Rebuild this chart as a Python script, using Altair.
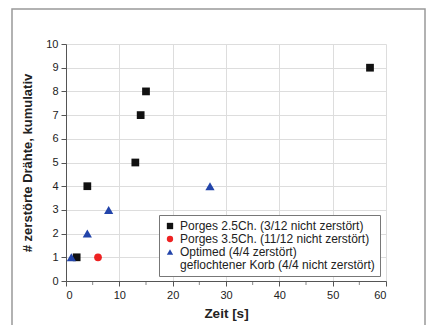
import altair as alt
import pandas as pd

series_names = [
    "Porges 2.5Ch.  (3/12 nicht zerstört)",
    "Porges 3.5Ch. (11/12 nicht zerstört)",
    "Optimed (4/4 zerstört)",
    "geflochtener Korb (4/4 nicht zerstört)",
]
p25_x = [2, 4, 13, 14, 15, 57]
p25_y = [1, 4, 5, 7, 8, 9]
p35_x = [6]
p35_y = [1]
opt_x = [1, 4, 8, 27]
opt_y = [1, 2, 3, 4]
x_ticks = [0, 10, 20, 30, 40, 50, 60]
x_minor = [5, 15, 25, 35, 45, 55]
y_ticks = list(range(0, 11))

rows = []
for xs, ys, name in [(p25_x, p25_y, series_names[0]),
                     (p35_x, p35_y, series_names[1]),
                     (opt_x, opt_y, series_names[2])]:
    for a, b in zip(xs, ys):
        rows.append({"t": a, "n": b, "s": name})
df = pd.DataFrame(rows)

FONT = "Liberation Sans"

leg = alt.Legend(title=None, orient="none", legendX=93, legendY=171,
                 labelFontSize=12, symbolSize=40, rowPadding=1,
                 labelLimit=400, strokeColor="#777", padding=5,
                 fillColor="white")

enc = dict(
    x=alt.X("t:Q", title="Zeit [s]",
            scale=alt.Scale(domain=[0, 60], nice=False),
            axis=alt.Axis(values=x_ticks, labelOverlap=False,
                          labelFontSize=11, titleFontSize=13.5,
                          titlePadding=6, labelPadding=3,
                          tickSize=5)),
    y=alt.Y("n:Q", title="# zerstörte Drähte, kumulativ",
            scale=alt.Scale(domain=[0, 10], nice=False),
            axis=alt.Axis(values=y_ticks, labelOverlap=False,
                          labelFontSize=11, titleFontSize=13,
                          titlePadding=11, labelPadding=3,
                          tickSize=5)),
    shape=alt.Shape("s:N", scale=alt.Scale(domain=series_names,
                    range=["square", "circle", "triangle-up", "square"]),
                    legend=leg),
    color=alt.Color("s:N", scale=alt.Scale(domain=series_names,
                    range=["#111111", "#ee2222", "#2244aa", "transparent"]),
                    legend=leg),
)

base = alt.Chart(df)
pts_main = base.transform_filter(
    alt.datum.s != series_names[2]
).mark_point(filled=True, opacity=1, size=60).encode(**enc)
pts_tri = base.transform_filter(
    alt.datum.s == series_names[2]
).mark_point(filled=True, opacity=1, size=85).encode(**enc)

minor = alt.Chart(pd.DataFrame({"m": x_minor})).mark_tick(
    orient="vertical", size=4, color="#555555", thickness=1, clip=False
).encode(x=alt.X("m:Q"), y=alt.value(239))

frame = alt.Chart(pd.DataFrame({"a": [0]})).mark_rect(
    fillOpacity=0, stroke="#999999", strokeWidth=1.5, clip=False
).encode(x=alt.value(-54), x2=alt.value(359), y=alt.value(-35), y2=alt.value(320))

chart = alt.layer(frame, minor, pts_main, pts_tri).properties(
    width=320, height=237,
    padding={"left": 58, "top": 36, "right": 40, "bottom": 45},
    autosize=alt.AutoSizeParams(type="none"),
).configure(font=FONT).configure_view(stroke=None).configure_axis(
    gridColor="#dddddd", domainColor="#555555", tickColor="#555555",
    labelColor="#222222", titleColor="#222222", labelFont=FONT, titleFont=FONT,
).configure_legend(labelFont=FONT, labelColor="#222222")

chart.save("out.html", embed_options={"renderer": "svg", "actions": False})
